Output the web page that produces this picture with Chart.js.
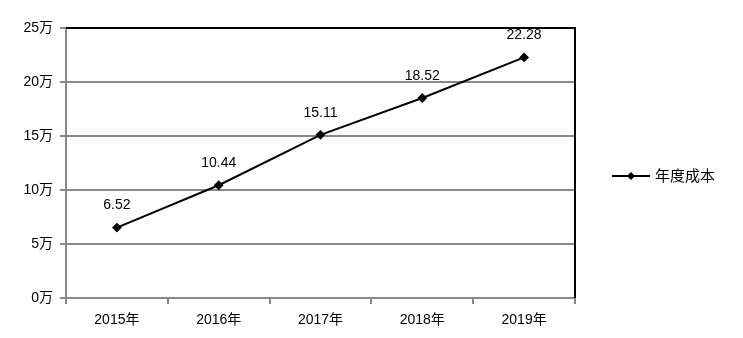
<!DOCTYPE html>
<html>
<head>
<meta charset="utf-8">
<script src="https://cdn.jsdelivr.net/npm/chart.js@4.4.0/dist/chart.umd.min.js"></script>
<style>
  html, body { margin: 0; padding: 0; background: #fff; }
  #wrap { width: 743px; height: 338px; position: relative; }
</style>
</head>
<body>
<div id="wrap"><canvas id="myChart"></canvas></div>
<script>
const years = ['2015年', '2016年', '2017年', '2018年', '2019年'];
const costs = [6.52, 10.44, 15.11, 18.52, 22.28];
const yTicks = [0, 5, 10, 15, 20, 25];
const seriesName = '年度成本';

const FONT = '"Liberation Sans", "Noto Sans CJK SC", sans-serif';

// data labels + black top/right border + legend on the right
const extras = {
  id: 'extras',
  afterDatasetsDraw(chart) {
    const ctx = chart.ctx;
    const meta = chart.getDatasetMeta(0);
    ctx.save();
    ctx.fillStyle = '#000';
    ctx.font = '14px ' + FONT;
    ctx.textAlign = 'center';
    ctx.textBaseline = 'middle';
    meta.data.forEach((pt, i) => {
      ctx.fillText(costs[i].toFixed(2), pt.x, pt.y - 22);
    });
    const a = chart.chartArea;
    ctx.strokeStyle = '#000';
    ctx.lineWidth = 2;
    ctx.beginPath();
    ctx.moveTo(a.left, a.top);
    ctx.lineTo(a.right, a.top);
    ctx.lineTo(a.right, a.bottom);
    ctx.stroke();

    // legend
    const ly = 176;
    ctx.lineWidth = 2;
    ctx.beginPath();
    ctx.moveTo(612, ly);
    ctx.lineTo(650, ly);
    ctx.stroke();
    ctx.beginPath();
    ctx.moveTo(631, ly - 4);
    ctx.lineTo(635, ly);
    ctx.lineTo(631, ly + 4);
    ctx.lineTo(627, ly);
    ctx.closePath();
    ctx.fill();
    ctx.textAlign = 'left';
    ctx.font = '15px ' + FONT;
    ctx.fillText(seriesName, 655, ly + 1);
    ctx.restore();
  }
};

new Chart(document.getElementById('myChart'), {
  type: 'line',
  data: {
    labels: years,
    datasets: [{
      label: seriesName,
      data: costs,
      borderColor: '#000',
      backgroundColor: '#000',
      borderWidth: 2,
      pointStyle: 'rectRot',
      pointRadius: 3.5,
      pointBackgroundColor: '#000',
      pointBorderColor: '#000',
      tension: 0
    }]
  },
  options: {
    responsive: true,
    maintainAspectRatio: false,
    animation: false,
    layout: { padding: { left: 0, top: 28, right: 168, bottom: 0 } },
    plugins: {
      legend: { display: false },
      tooltip: { enabled: false }
    },
    scales: {
      x: {
        offset: true,
        grid: {
          offset: true,
          drawOnChartArea: false,
          drawTicks: true,
          tickLength: 6,
          color: '#888',
          lineWidth: 2
        },
        border: { color: '#888', width: 2 },
        ticks: {
          color: '#000',
          font: { family: FONT, size: 14 },
          padding: 8,
          maxRotation: 0
        },
        afterFit(scale) { scale.height = 40; }
      },
      y: {
        min: 0,
        max: 25,
        afterBuildTicks(scale) { scale.ticks = yTicks.map(v => ({ value: v })); },
        grid: {
          color: '#888',
          lineWidth: 2,
          tickLength: 6
        },
        border: { color: '#888', width: 2 },
        ticks: {
          color: '#000',
          font: { family: FONT, size: 14 },
          padding: 7,
          callback: v => v + '万'
        },
        afterFit(scale) { scale.width = 66; }
      }
    }
  },
  plugins: [extras]
});
</script>
</body>
</html>
